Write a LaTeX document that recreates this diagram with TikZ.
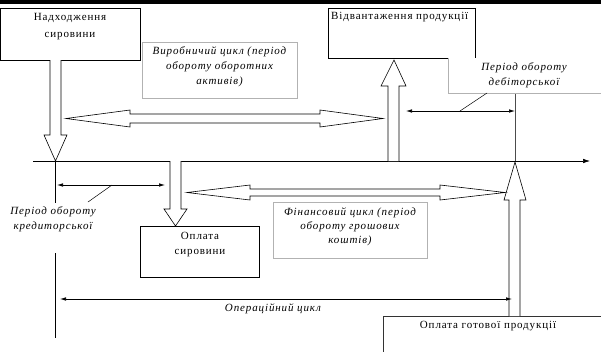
\documentclass[tikz,border=0pt]{standalone}
\usepackage{fontspec}
\setmainfont{Liberation Serif}[LetterSpace=8]
\usetikzlibrary{arrows.meta}
\begin{document}
\begin{tikzpicture}[x=1pt,y=-1pt,
  frame/.style={draw=black, fill=white, line width=0.6pt, inner sep=0pt, anchor=north west},
  txt/.style={inner sep=0pt, font=\fontsize{11}{13}\selectfont},
  itxt/.style={inner sep=0pt, font=\itshape\fontsize{11}{13}\selectfont},
  tag/.style={draw=black!30, fill=white, line width=0.5pt, inner sep=0pt, anchor=north west},
  blockarrow/.style={draw=black, fill=white, line width=0.6pt, line join=miter},
  span/.style={line width=0.6pt, {Latex[length=6pt,width=3.5pt]}-{Latex[length=6pt,width=3.5pt]}},
  leader/.style={line width=0.5pt}]
\useasboundingbox (0,0) rectangle (601,351);

% heavy rule along the top edge
\fill[black] (0,0) rectangle (601,4);

% time axis and its reference verticals
\coordinate (ax0) at (33,161);
\coordinate (ax1) at (590,161);
\draw[line width=0.6pt, -{Latex[length=7pt,width=4.5pt]}] (ax0) -- (ax1);
\coordinate (v1top) at (55,161);
\coordinate (v1bot) at (55,338);
\draw[line width=0.6pt] (v1top) -- (v1bot);
\coordinate (v2top) at (515,93);
\coordinate (v2bot) at (515,161);
\draw[line width=0.6pt, draw=black!70] (v2top) -- (v2bot);

% boxes for the events
\node[frame, minimum width=140pt, minimum height=52pt] (recv) at (0,8) {};
\node[txt] (recv1) at (70,18) {Надходження};
\node[txt] (recv2) at (70,36) {сировини};

\node[frame, minimum width=147pt, minimum height=50pt] (ship) at (328,8) {};
\node[txt, anchor=west] (ship1) at (331,17) {Відвантаження продукції};

\node[frame, minimum width=119pt, minimum height=51pt] (payraw) at (140,226) {};
\node[txt] (payraw1) at (200,236) {Оплата};
\node[txt] (payraw2) at (200,253) {сировини};

\node[frame, draw=black!80, minimum width=230pt, minimum height=50pt] (paygoods) at (383,316) {};
\node[txt] (paygoods1) at (488,326) {Оплата готової продукції};

% block arrows between events and the axis
\draw[blockarrow] (50,60) -- (50,135) -- (44,135) -- (55.5,161) -- (67,135) -- (61,135) -- (61,60);
\draw[blockarrow] (170,161) -- (170,209) -- (164,209) -- (175.5,226) -- (187,209) -- (181,209) -- (181,161);
\draw[blockarrow] (388,161) -- (388,86) -- (381,86) -- (394,60) -- (406,86) -- (399,86) -- (399,161);
\draw[blockarrow] (509,316) -- (509,200) -- (504,200) -- (515,162) -- (526,200) -- (520,200) -- (520,316);

% double block arrows for the cycles
\draw[blockarrow] (66,118.5) -- (130,110) -- (130,114) -- (320,114) -- (320,110) -- (383,118.5)
  -- (320,127) -- (320,123) -- (130,123) -- (130,127) -- cycle;
\draw[blockarrow] (187,192.5) -- (250,185) -- (250,189) -- (440,189) -- (440,185) -- (505,192.5)
  -- (440,200) -- (440,196) -- (250,196) -- (250,200) -- cycle;

% caption boxes
\node[tag, minimum width=155pt, minimum height=56pt] (prodtag) at (142,42) {};
\node[itxt] (prod1) at (219.5,52) {Виробничий цикл (період};
\node[itxt] (prod2) at (219.5,67) {обороту оборотних};
\node[itxt] (prod3) at (219.5,82) {активів)};

\node[tag, minimum width=154pt, minimum height=56pt] (fintag) at (273,202) {};
\node[itxt] (fin1) at (350,213) {Фінансовий цикл (період};
\node[itxt] (fin2) at (350,227) {обороту грошових};
\node[itxt] (fin3) at (350,241) {коштів)};

\fill[white] (448,58) rectangle (601,93);
\draw[black!30, line width=0.5pt] (448,58) -- (448,93) -- (601,93);
\node[itxt] (deb1) at (524,68) {Період обороту};
\node[itxt] (deb2) at (524,83) {дебіторської};

\node[fill=white, inner sep=0pt, minimum width=96pt, minimum height=50pt, anchor=north west] (credtag) at (5,203) {};
\node[itxt] (cred1) at (53,212) {Період обороту};
\node[itxt] (cred2) at (53,227) {кредиторської};

\node[itxt] (oper) at (273,309) {Операційний цикл};

% period spans with their leaders
\coordinate (c0) at (57,185);
\coordinate (c1) at (165,185);
\draw[span] (c0) -- (c1);
\coordinate (cmid) at (112,185);
\coordinate (cend) at (88,202);
\draw[leader] (cmid) -- (cend);

\coordinate (d0) at (406,111);
\coordinate (d1) at (515,111);
\draw[span] (d0) -- (d1);
\coordinate (dmid) at (460,111);
\coordinate (dend) at (487,93);
\draw[leader] (dmid) -- (dend);

\coordinate (o0) at (60,299);
\coordinate (o1) at (512,299);
\draw[span] (o0) -- (o1);
\end{tikzpicture}
\end{document}
